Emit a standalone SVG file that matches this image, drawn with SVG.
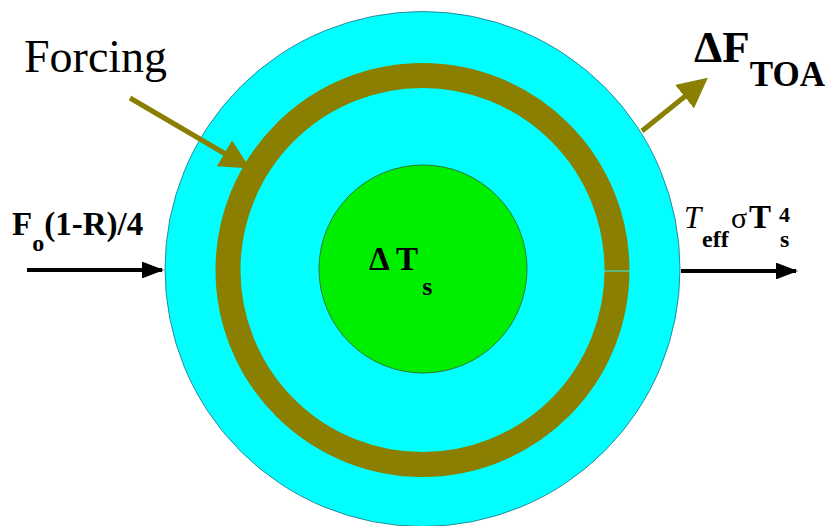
<svg xmlns="http://www.w3.org/2000/svg" width="832" height="526" viewBox="0 0 832 526">
<style>
.t{font-family:"Liberation Serif","Times New Roman","DejaVu Serif",serif;fill:#000}
.b{font-weight:bold}
.ol{stroke:#8A7F00;stroke-width:5;fill:none}
.bk{stroke:#000;stroke-width:4;fill:none}
</style>
<defs>
<marker id="ah-ol" markerWidth="6" markerHeight="6" refX="5" refY="3" orient="auto" markerUnits="strokeWidth" viewBox="0 0 6 6"><path d="M0,0 L6,3 L0,6 z" fill="#8A7F00"/></marker>
<marker id="ah-bk" markerWidth="5.5" markerHeight="4.2" refX="5" refY="2.1" orient="auto" markerUnits="strokeWidth" viewBox="0 0 5.5 4.2"><path d="M0,0 L5.5,2.1 L0,4.2 z" fill="#000"/></marker>
</defs>
<rect width="832" height="526" fill="#fff"/>
<g id="outer">
<circle cx="422.5" cy="269" r="257.5" fill="#00FFFF" stroke="#2A8A9A" stroke-width="1"/>
</g>
<g id="ring">
<circle cx="422.5" cy="270" r="194.5" fill="none" stroke="#8A7F00" stroke-width="25"/>
<line x1="604" y1="271" x2="630" y2="271" stroke="#40E0D0" stroke-width="1.2"/>
</g>
<g id="core">
<circle cx="423" cy="269" r="104" fill="#00EE00" stroke="#2A7A2A" stroke-width="1"/>
<text class="t b" x="369" y="270" font-size="33">Δ T<tspan font-size="26" dx="4" dy="25">s</tspan></text>
</g>
<g id="connectors">
<line class="ol" x1="130" y1="98" x2="246" y2="166" marker-end="url(#ah-ol)"/>
<line class="ol" x1="642" y1="131" x2="704" y2="81" marker-end="url(#ah-ol)"/>
<line class="bk" x1="27" y1="270" x2="162" y2="270" marker-end="url(#ah-bk)"/>
<line class="bk" x1="681" y1="271" x2="796" y2="271" marker-end="url(#ah-bk)"/>
</g>
<g id="labels">
<text class="t" x="24" y="72" font-size="46">Forcing</text>
<text class="t b" x="694" y="62" font-size="45">ΔF<tspan font-size="35" dy="24">TOA</tspan></text>
<text class="t b" x="12" y="235" font-size="33">F<tspan font-size="24" dy="16">o</tspan><tspan dy="-16">(1-R)/4</tspan></text>
<text class="t" font-size="32"><tspan x="684" y="228" font-size="31" font-style="italic">T</tspan><tspan class="b" x="702" y="247" font-size="24">eff</tspan><tspan x="731" y="228" font-size="30">σ</tspan><tspan class="b" x="749" y="228" font-size="33">T</tspan><tspan class="b" x="779" y="222" font-size="22">4</tspan><tspan class="b" x="780" y="247" font-size="24">s</tspan></text>
</g>
</svg>
